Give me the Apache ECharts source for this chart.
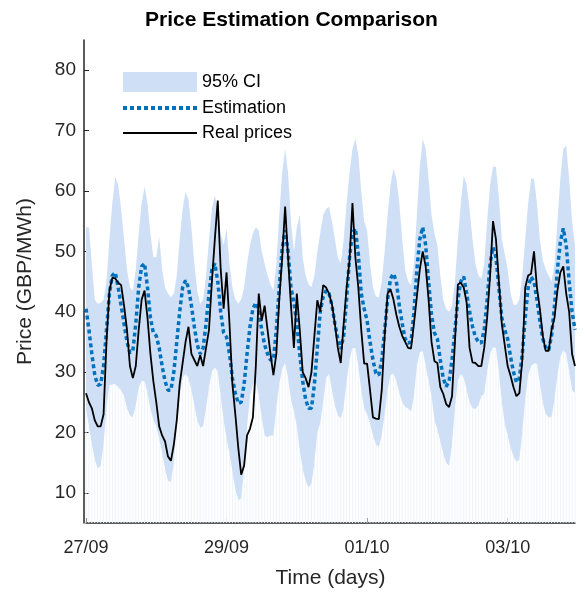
<!DOCTYPE html>
<html>
<head>
<meta charset="utf-8">
<title>Price Estimation Comparison</title>
<script src="https://cdn.jsdelivr.net/npm/echarts@6/dist/echarts.min.js"></script>
<style>
	html,body{margin:0;padding:0;background:#fff;}
	#main{width:585px;height:599px;}
</style>
</head>
<body>
<div id="main"></div>
<script>
// hourly values, 27/09 00:00 to 03/10 23:00
var realPrices = [
	26.5,25,24,22,21,21,23,35,43.5,45.6,45.5,44.8,44.4,41,37,31,29,31,37,42,43.5,39,33,28.5,
	25,21,19.5,18.5,16,15.3,18,22,28,31.5,35,37.5,33,32,31,32.8,31,34,37,45,52,58.4,47,40.5,
	46.5,38,28,23,17.5,13,14.5,19.5,20.6,22.5,31,43,38.5,41,37,33,29.5,33,42,49,57.4,49,41,34,
	43,37,30,29,27.5,30,36,41.9,40,44.4,44,43,41.2,38,34,31.5,38,44,48.5,58,49,44,37,31.4,
	31.4,27,22.5,22.3,22.2,27,36,43,43.7,42,39.5,37.5,36,35,34,33.9,38,42.5,47,50,47.5,42,35,31.8,
	31.5,27.5,26.4,24.7,24.2,26,35,44.5,44.8,44,41.5,34,31.6,31.5,31,31,34,39,46,55,52,45,38,34.5,
	31,29.4,27.5,26,26.5,32,44,46,46.3,50,44,40.5,36,33.5,33.5,37,39,43.5,46.5,47.5,43,40,33,31
];
var estimation = [
	40.5,37,33,29.5,27.8,28,31,37,43,46,46.5,44,41,38,35,33.2,33.5,38,44,47.5,48,44,39,36.5,
	36,34,31,28.5,27,27,30,35,40,44,45.2,44,41,37.5,34.5,33,34,38,43,47,48,45,40,36.5,
	35.8,33,29,26.5,24.8,25,28,33,37.5,40.5,41.5,40,37,34.5,33,32,32,37,44,50.5,53.5,50,44,41.5,
	38,33,28.5,25.5,24,24,28,34,40,42.5,43.5,43,41,38,35.5,33.8,36,42,49,53,53.8,49.5,43,40.5,
	38.5,35,32,29.8,29.5,32,37,42,45.5,46.3,45,41,38,35.5,34.8,35,40,47,52,54,51,45,39.5,36.5,
	35.5,32,29,27.6,28.5,32,37,42,45,45.8,43,40,37.5,35.8,35,34.8,37,42,48,50.7,49,44,39,37,
	35.5,32.5,30,28.3,29,33,39,44,45.8,45,42,38.5,35.5,34,33.6,36,41,47,51.5,53.8,51,45,40,37
];
var ciLower = [
	24,21,18,15.5,14,14.5,18,24,27.8,28,28,27.5,27,26,24,22.8,22.5,24.5,27.5,28.5,28.5,26.5,24,22,
	21,19,16.5,14,12,11.8,15,21,26,29,29.7,29,27,24.5,22,20.8,21,24,27.5,30,30.8,30,26,22,
	19,16.5,13.5,10.5,8.8,9,14,21,26,28,28.5,26,22.5,19.5,19.2,19.5,19.5,24,28,30.5,31.5,29,25.5,23.5,
	21,17,14,12,10.9,11.5,15,20,21.5,25,29,29.7,27,24.5,22.8,22.3,24,28.5,32,34,34,31,27,24,
	23,21.5,19.5,18,17.6,19.5,23,27,29.5,29.7,28.5,26.5,25,24.2,24,23.4,26,31,33.3,33.5,31,28.5,26,22,
	20.5,18.5,16.5,15,14.5,18,24,28.5,29.7,29,27,25,24,23.9,24.5,26,26.4,30,33,34.1,34,30,25,21.5,
	19.5,17.5,16,15.1,15.5,20,25.5,29.5,31,31.4,31.4,28,25,23,22.5,22.5,25.5,29.5,32.5,33.6,33,30,27,26.5
];
var ciUpper = [
	54,54,48,42,41.3,41.5,42,45,52,58,62.3,61,57,52,47,44,43.5,47,53,58,60.7,58,53,49,
	49,52.4,47,44,43,42.4,43,46,52,57,59.9,58.5,54,48,43.5,41.3,42,46,52,57,59.3,57,53,51,
	53.8,48,44,42,41.3,42,44,48,51,53,54,53.5,50,48,46,44.5,43.5,48,56,63,67,63,55,50,
	54,56,49,46,44.5,44.1,46,50,53,56,57,57.4,55,52,49,48,52,58,63,67,68.7,66,60,55,
	53.5,48,44,42.5,42.4,45,50,56,61,63.7,62,58,52,47,45,44.4,48,56,64,68.7,67,62,56,53,
	51,46,42,40.5,40,41,45,52,58,62.6,61,57,52,48,46,45.5,48,55,61,64,64,59,52,49.6,
	47,43,41.2,41.1,42,46,52,58,62,62,58,52,48.5,47,46,45,48,55,62,67,67.5,62,55,51
];
var yTicks = [10,20,30,40,50,60,70,80];
var xTickLabels = {0:'27/09', 48:'29/09', 96:'01/10', 144:'03/10'};

var hours = [];
var ciWidth = [];
for (var i = 0; i < ciUpper.length; i++) {
	hours.push(i);
	ciWidth.push(+(ciUpper[i] - ciLower[i]).toFixed(2));
}

var font = 'Liberation Sans, Arial, sans-serif';
var chart = echarts.init(document.getElementById('main'), null, {renderer:'canvas'});
var option = {
	animation: false,
	title: {
		text: 'Price Estimation Comparison',
		left: 140,
		top: 5,
		textStyle: {fontFamily: font, fontSize: 21, fontWeight: 'bold', color: '#000'}
	},
	legend: {
		orient: 'vertical',
		left: 121,
		top: 72,
		padding: 0,
		itemWidth: 74,
		itemHeight: 20,
		itemGap: 7,
		textStyle: {fontFamily: font, fontSize: 18, color: '#000'},
		data: [
			{name: '95% CI', icon: 'rect'},
			{name: 'Estimation', itemStyle: {opacity: 0}, lineStyle: {color: '#0072bd', width: 4, type: [4, 3]}},
			{name: 'Real prices', itemStyle: {opacity: 0}, lineStyle: {color: '#000', width: 2}}
		]
	},
	grid: {left: 86, right: 10, top: 40, bottom: 76},
	xAxis: {
		type: 'category',
		data: hours,
		boundaryGap: false,
		name: 'Time (days)',
		nameLocation: 'middle',
		nameGap: 45,
		nameTextStyle: {fontFamily: font, fontSize: 21, color: '#262626'},
		axisLine: {lineStyle: {color: '#262626', width: 1.5}},
		axisTick: {
			inside: true, length: 5,
			interval: function(idx){ return xTickLabels[idx] !== undefined; },
			lineStyle: {color: '#262626'}
		},
		axisLabel: {
			interval: function(idx){ return xTickLabels[idx] !== undefined; },
			margin: 16,
			fontFamily: font, fontSize: 18, color: '#262626',
			formatter: function(v){ return xTickLabels[v] || ''; }
		},
		splitLine: {show: false}
	},
	yAxis: {
		type: 'value',
		min: 5,
		max: 85,
		offset: 2,
		name: 'Price (GBP/MWh)',
		nameLocation: 'middle',
		nameGap: 48,
		nameTextStyle: {fontFamily: font, fontSize: 21, color: '#262626'},
		axisLine: {show: true, lineStyle: {color: '#262626', width: 1.5}},
		axisTick: {show: true, inside: true, length: 5, customValues: yTicks, lineStyle: {color: '#262626'}},
		axisLabel: {customValues: yTicks, margin: 8, fontFamily: font, fontSize: 19, color: '#262626'},
		splitLine: {show: false}
	},
	series: [
		{
			// faint hourly stripes under the band
			name: 'stripes',
			type: 'bar',
			data: ciLower,
			barWidth: 1,
			silent: true,
			itemStyle: {color: '#eef3fb'},
			z: 1
		},
		{
			name: 'lower',
			type: 'line',
			stack: 'ci',
			data: ciLower,
			symbol: 'none',
			lineStyle: {opacity: 0},
			silent: true,
			z: 2
		},
		{
			name: '95% CI',
			type: 'line',
			stack: 'ci',
			data: ciWidth,
			symbol: 'none',
			lineStyle: {opacity: 0},
			itemStyle: {color: '#cfe0f6'},
			areaStyle: {color: '#cfe0f6', opacity: 1},
			z: 2
		},
		{
			name: 'Estimation',
			type: 'line',
			data: estimation,
			symbol: 'none',
			itemStyle: {color: '#0072bd'},
			lineStyle: {color: '#0072bd', width: 3.5, type: [4, 3]},
			z: 3
		},
		{
			name: 'Real prices',
			type: 'line',
			data: realPrices,
			symbol: 'none',
			itemStyle: {color: '#000'},
			lineStyle: {color: '#000', width: 1.8},
			z: 4
		}
	]
};
chart.setOption(option);
</script>
</body>
</html>
